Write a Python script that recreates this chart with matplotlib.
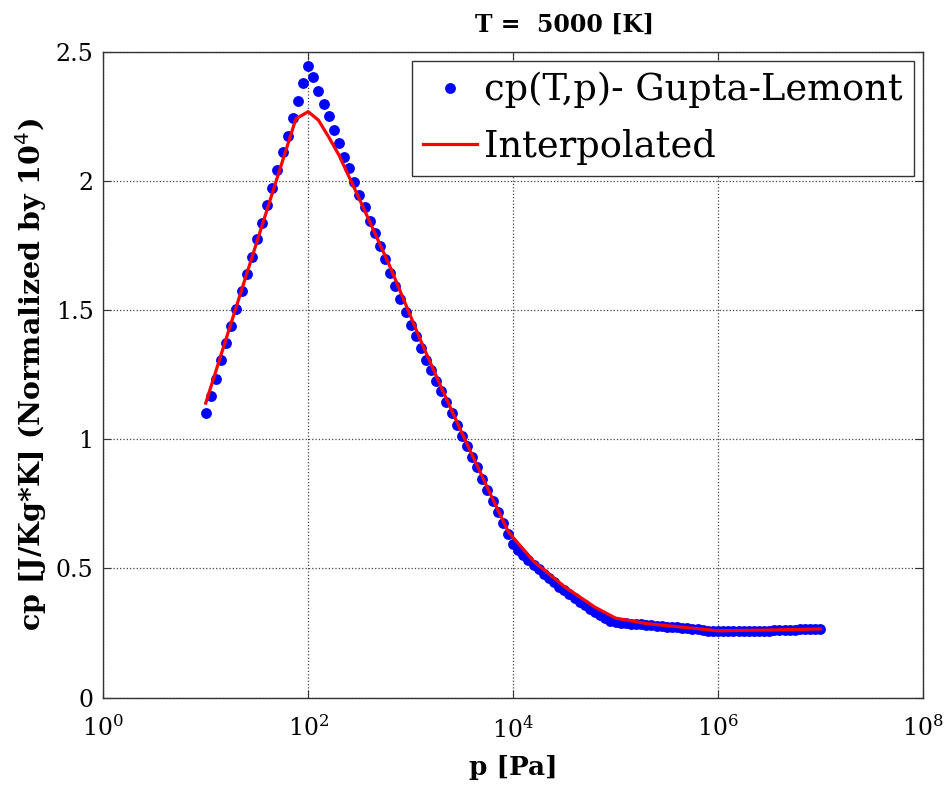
import matplotlib
matplotlib.use("Agg")
import matplotlib.pyplot as plt
import numpy as np

# cp(T,p) Gupta-Lemont table at T = 5000 K, p given as log10(p [Pa])
LOG_P_TABLE = [
    1.00, 1.05, 1.10, 1.15, 1.20, 1.25, 1.30, 1.35, 1.40, 1.45,
    1.50, 1.55, 1.60, 1.65, 1.70, 1.75, 1.80, 1.85, 1.90, 1.95,
    2.00, 2.05, 2.10, 2.15, 2.20, 2.25, 2.30, 2.35, 2.40, 2.45,
    2.50, 2.55, 2.60, 2.65, 2.70, 2.75, 2.80, 2.85, 2.90, 2.95,
    3.00, 3.05, 3.10, 3.15, 3.20, 3.25, 3.30, 3.35, 3.40, 3.45,
    3.50, 3.55, 3.60, 3.65, 3.70, 3.75, 3.80, 3.85, 3.90, 3.95,
    4.00, 4.05, 4.10, 4.15, 4.20, 4.25, 4.30, 4.35, 4.40, 4.45,
    4.50, 4.55, 4.60, 4.65, 4.70, 4.75, 4.80, 4.85, 4.90, 4.95,
    5.00, 5.05, 5.10, 5.15, 5.20, 5.25, 5.30, 5.35, 5.40, 5.45,
    5.50, 5.55, 5.60, 5.65, 5.70, 5.75, 5.80, 5.85, 5.90, 5.95,
    6.00, 6.05, 6.10, 6.15, 6.20, 6.25, 6.30, 6.35, 6.40, 6.45,
    6.50, 6.55, 6.60, 6.65, 6.70, 6.75, 6.80, 6.85, 6.90, 6.95,
    7.00,
]
CP_TABLE = [
    1.100, 1.166, 1.234, 1.305, 1.372, 1.437, 1.506, 1.573, 1.639, 1.706,
    1.774, 1.838, 1.907, 1.974, 2.043, 2.110, 2.175, 2.243, 2.311, 2.379,
    2.444, 2.402, 2.348, 2.299, 2.250, 2.198, 2.146, 2.094, 2.049, 1.997,
    1.946, 1.898, 1.846, 1.797, 1.748, 1.696, 1.644, 1.592, 1.544, 1.492,
    1.441, 1.398, 1.354, 1.308, 1.269, 1.227, 1.186, 1.143, 1.100, 1.057,
    1.014, 0.975, 0.932, 0.891, 0.845, 0.803, 0.761, 0.720, 0.677, 0.634,
    0.593, 0.570, 0.552, 0.533, 0.515, 0.497, 0.480, 0.463, 0.446, 0.430,
    0.415, 0.400, 0.386, 0.372, 0.358, 0.345, 0.332, 0.320, 0.308, 0.298,
    0.292, 0.290, 0.288, 0.287, 0.285, 0.284, 0.282, 0.280, 0.278, 0.277,
    0.275, 0.273, 0.272, 0.270, 0.268, 0.266, 0.264, 0.262, 0.260, 0.258,
    0.257, 0.257, 0.257, 0.257, 0.258, 0.258, 0.258, 0.259, 0.259, 0.260,
    0.260, 0.261, 0.262, 0.262, 0.263, 0.263, 0.264, 0.264, 0.264, 0.265,
    0.265,
]

# interpolated curve nodes
LOG_P_INTERP = [1.00, 1.88, 2.00, 2.10, 2.20, 2.30, 2.50, 2.80, 3.10, 3.30,
                3.50, 3.80, 3.95, 4.00, 4.20, 4.50, 4.80, 5.00, 5.30, 5.60,
                6.00, 6.50, 7.00]
CP_INTERP = [1.140, 2.240, 2.268, 2.235, 2.170, 2.100, 1.930, 1.667, 1.380, 1.200,
             1.025, 0.770, 0.645, 0.620, 0.528, 0.430, 0.350, 0.308, 0.287, 0.275,
             0.259, 0.262, 0.266]

plt.rcParams["font.family"] = "DejaVu Serif"

fig = plt.figure(figsize=(9.5, 7.88), dpi=100)
ax = fig.add_axes([0.1087, 0.1146, 0.8628, 0.8198])

p_tab = 10.0 ** np.array(LOG_P_TABLE)
p_int = 10.0 ** np.array(LOG_P_INTERP)

ax.plot(p_tab, CP_TABLE, "o", color="#0000ff", markersize=7.8,
        markeredgewidth=0, label="cp(T,p)- Gupta-Lemont")
ax.plot(p_int, CP_INTERP, "-", color="#ff0000", linewidth=2.3,
        label="Interpolated")

ax.set_xscale("log")
ax.set_xlim(1, 1e8)
ax.set_ylim(0, 2.5)
ax.set_xticks([1e0, 1e2, 1e4, 1e6, 1e8])
ax.xaxis.set_minor_locator(matplotlib.ticker.NullLocator())
ax.set_yticks([0, 0.5, 1, 1.5, 2, 2.5])
ax.set_yticklabels(["0", "0.5", "1", "1.5", "2", "2.5"])
ax.tick_params(direction="in", top=True, right=True, labelsize=17, length=6,
               color="#333333")
ax.tick_params(axis="x", pad=13)
ax.tick_params(axis="y", pad=7)
ax.grid(True, linestyle=":", color="#444444", linewidth=0.9)
for s in ax.spines.values():
    s.set_linewidth(1.0)
    s.set_color("#333333")

ax.set_xlabel("p [Pa]", fontsize=19, fontweight="bold", labelpad=9)
ax.set_ylabel("cp [J/Kg*K] (Normalized by 10$^4$)", fontsize=20.5,
              fontweight="bold", labelpad=5)
fig.text(565 / 950, 1 - 25 / 788, "T =  5000 [K]", fontsize=17,
         fontweight="bold", ha="center", va="center")

leg = ax.legend(loc="upper right", fontsize=26.5, frameon=True, fancybox=False,
                edgecolor="#333333", framealpha=1, handlelength=1.45,
                handletextpad=0.2, borderpad=0.3, labelspacing=0.55,
                borderaxespad=0.25, numpoints=1)
leg.get_frame().set_linewidth(1.0)

fig.savefig("out.png", dpi=100)
